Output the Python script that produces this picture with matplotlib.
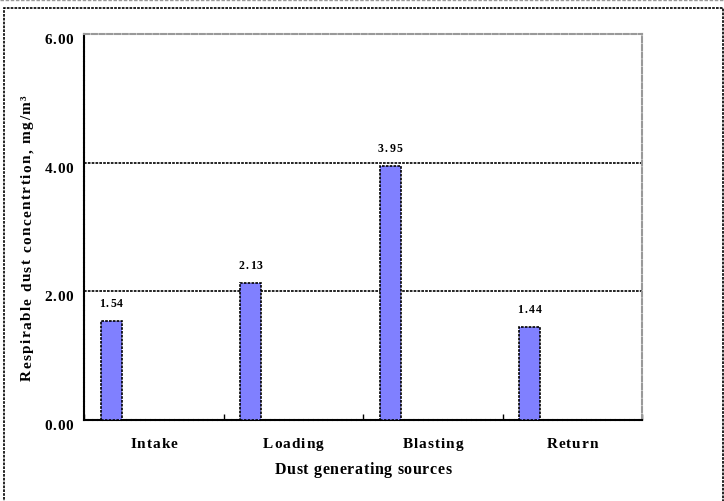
import matplotlib
matplotlib.use("Agg")
import matplotlib.pyplot as plt
from matplotlib.patches import Rectangle
from matplotlib.lines import Line2D
from matplotlib.transforms import IdentityTransform
from matplotlib.font_manager import FontProperties

categories = ["Intake", "Loading", "Blasting", "Return"]
values = [1.54, 2.13, 3.95, 1.44]
yticks = [0.0, 2.0, 4.0, 6.0]
ylabel = "Respirable dust concentrtion, mg/m\u00b3"
xlabel = "Dust generating sources"

W, H = 724, 502
plt.rcParams['font.family'] = ['Liberation Serif', 'DejaVu Serif']
fig = plt.figure(figsize=(W / 100, H / 100), dpi=100)
renderer = fig.canvas.get_renderer()

dot = (0, (1.6, 0.7))
dash = (0, (2.5, 1.2))


def _w(s, prop):
    w, h, d = renderer.get_text_width_height_descent(s, prop, ismath=False)
    return w


def spaced(s, x, y, size, spacing, ha='center', rotation=0):
    """Draw letter-spaced text; x, y are pixel coords from top-left; y is baseline
    (for rotation=90, x is the baseline x and y is the anchor along the text)."""
    prop = FontProperties(family=['Liberation Serif', 'DejaVu Serif'], weight='bold', size=size)
    base = _w("xx", prop)
    advs = [_w("x" + c + "x", prop) - base for c in s]
    total = sum(advs) + spacing * (len(s) - 1)
    if ha == 'center':
        start = -total / 2
    elif ha == 'right':
        start = -total
    else:
        start = 0
    pos = start
    for c, a in zip(s, advs):
        if rotation == 0:
            xd, yd = x + pos, H - y
        else:
            xd, yd = x, (H - y) + pos
        fig.text(xd, yd, c, transform=IdentityTransform(), fontproperties=prop,
                 ha='left', va='baseline', rotation=rotation, rotation_mode='anchor')
        pos += a + spacing


# outer frame
fig.patches.append(Rectangle((4 / W, -0.05), 719 / W, 1.05 - 9 / H, transform=fig.transFigure,
                             fill=False, edgecolor='black', lw=1.2, linestyle=dot))
fig.lines.append(Line2D([0, 1], [1 - 0.8 / H, 1 - 0.8 / H], transform=fig.transFigure,
                        color='#999999', lw=1.0, linestyle=dash))

L, R, T, B = 84, 642, 35, 421
ax = fig.add_axes([L / W, (H - B) / H, (R - L) / W, (B - T) / H])

x = list(range(len(categories)))
off = -0.5 + 27 / 139.5
bx = [xi + off for xi in x]
ax.bar(bx, values, width=21 / 139.5, color='#8080FF', edgecolor='black',
       linewidth=1.2, linestyle=dot, zorder=3)

ax.set_xlim(-0.5, len(categories) - 0.5)
ax.set_ylim(0, 6)
ax.set_yticks(yticks)
ax.set_yticklabels([])
ax.tick_params(axis='y', length=0)
ax.set_xticks(x)
ax.set_xticklabels([])
ax.tick_params(axis='x', which='major', length=0)
ax.set_xticks([i - 0.5 for i in range(len(categories) + 1)], minor=True)
ax.tick_params(axis='x', which='minor', direction='in', length=4, width=1.0)

for g in [2.0, 4.0]:
    ax.axhline(g, color='black', lw=1.2, linestyle=dot, zorder=1)

for s in ['left', 'bottom']:
    ax.spines[s].set_linestyle(dot)
    ax.spines[s].set_linewidth(1.5)
    ax.spines[s].set_color('black')
for s in ['top', 'right']:
    ax.spines[s].set_linestyle(dash)
    ax.spines[s].set_linewidth(1.5)
    ax.spines[s].set_color('#999999')

# text, positioned through the axes transforms
tD = ax.transData
for xi, v in zip(bx, values):
    px, py = tD.transform((xi, v))
    spaced(f"{v:.2f}", px, (H - py) - 15, 8.5, 1.3)

for t in yticks:
    px, py = tD.transform((-0.5, t))
    spaced(f"{t:.2f}", px - 11, (H - py) + 9, 11, 0.6, ha='right')

for xi, c in zip(x, categories):
    px, py = tD.transform((xi, 0))
    spaced(c, px, 448, 11, 1.0)

spaced(xlabel, (L + R) / 2, 474, 11.5, 0.6)
spaced(ylabel, 31, 238, 11, 1.4, rotation=90)

fig.savefig("out.png", dpi=100)
